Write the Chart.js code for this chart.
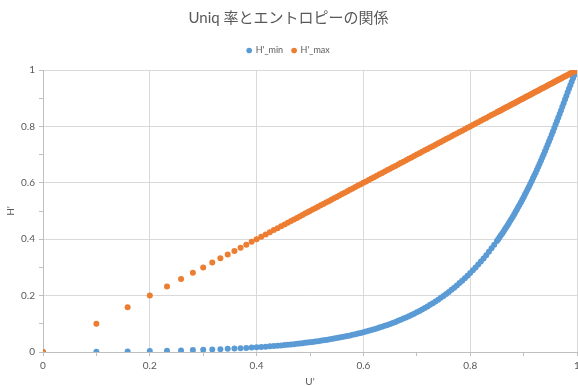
<!DOCTYPE html>
<html>
<head>
<meta charset="utf-8">
<script src="https://cdn.jsdelivr.net/npm/chart.js@4/dist/chart.umd.min.js"></script>
<style>
  html, body { margin: 0; padding: 0; background: #ffffff; }
  #wrap { width: 578px; height: 386px; }
</style>
</head>
<body>
<div id="wrap"><canvas id="c" width="578" height="386"></canvas></div>
<script>
// U' (uniq ratio) for each sample
const uPrime = [
  0, 0.1, 0.1585, 0.2, 0.2322, 0.2585, 0.2807, 0.3, 0.3170, 0.3322,
  0.3459, 0.3585, 0.3700, 0.3807, 0.3907, 0.4, 0.4087, 0.4170, 0.4248, 0.4322,
  0.4392, 0.4459, 0.4524, 0.4585, 0.4644, 0.4700, 0.4755, 0.4807, 0.4858, 0.4907, 0.4954,
  0.500, 0.505, 0.510, 0.515, 0.520, 0.525, 0.530, 0.535, 0.540, 0.545,
  0.550, 0.555, 0.560, 0.565, 0.570, 0.575, 0.580, 0.585, 0.590, 0.595,
  0.600, 0.605, 0.610, 0.615, 0.620, 0.625, 0.630, 0.635, 0.640, 0.645,
  0.650, 0.655, 0.660, 0.665, 0.670, 0.675, 0.680, 0.685, 0.690, 0.695,
  0.700, 0.705, 0.710, 0.715, 0.720, 0.725, 0.730, 0.735, 0.740, 0.745,
  0.750, 0.755, 0.760, 0.765, 0.770, 0.775, 0.780, 0.785, 0.790, 0.795,
  0.800, 0.805, 0.810, 0.815, 0.820, 0.825, 0.830, 0.835, 0.840, 0.845, 0.850,
  0.8525, 0.8550, 0.8575, 0.8600, 0.8625, 0.8650, 0.8675, 0.8700, 0.8725, 0.8750,
  0.8775, 0.8800, 0.8825, 0.8850, 0.8875, 0.8900, 0.8925, 0.8950, 0.8975,
  0.9000, 0.9025, 0.9050, 0.9075, 0.9100, 0.9125, 0.9150, 0.9175, 0.9200, 0.9225,
  0.9250, 0.9275, 0.9300, 0.9325, 0.9350, 0.9375, 0.9400, 0.9425, 0.9450, 0.9475,
  0.9500, 0.9525, 0.9550, 0.9575, 0.9600, 0.9625, 0.9650, 0.9675, 0.9700, 0.9725,
  0.9750, 0.9775, 0.9800, 0.9825, 0.9850, 0.9875, 0.9900, 0.9925, 0.9950, 0.9975, 1.0
];

// H'_min: lowest normalised entropy for each U'
const hMin = [
  0, 0.0011, 0.0022, 0.0034, 0.0045, 0.0056, 0.0067, 0.0078, 0.0089, 0.0101,
  0.0112, 0.0123, 0.0134, 0.0145, 0.0156, 0.0167, 0.0179, 0.0190, 0.0201, 0.0212,
  0.0223, 0.0234, 0.0246, 0.0257, 0.0268, 0.0279, 0.0290, 0.0301, 0.0312, 0.0324, 0.0335,
  0.0346, 0.0358, 0.0371, 0.0385, 0.0399, 0.0413, 0.0428, 0.0444, 0.0460, 0.0476,
  0.0493, 0.0511, 0.0529, 0.0548, 0.0568, 0.0588, 0.0609, 0.0631, 0.0654, 0.0677,
  0.0701, 0.0726, 0.0752, 0.0779, 0.0807, 0.0835, 0.0865, 0.0896, 0.0928, 0.0961,
  0.0995, 0.1030, 0.1066, 0.1104, 0.1143, 0.1184, 0.1225, 0.1269, 0.1313, 0.1360,
  0.1408, 0.1457, 0.1509, 0.1562, 0.1616, 0.1673, 0.1732, 0.1793, 0.1856, 0.1921,
  0.1988, 0.2058, 0.2129, 0.2204, 0.2281, 0.2360, 0.2443, 0.2528, 0.2616, 0.2707,
  0.2801, 0.2898, 0.2998, 0.3102, 0.3209, 0.3320, 0.3435, 0.3553, 0.3675, 0.3801, 0.3932,
  0.3999, 0.4067, 0.4136, 0.4206, 0.4277, 0.4349, 0.4423, 0.4497, 0.4573, 0.4650,
  0.4728, 0.4808, 0.4889, 0.4971, 0.5054, 0.5139, 0.5224, 0.5312, 0.5400,
  0.5490, 0.5581, 0.5674, 0.5768, 0.5863, 0.5960, 0.6058, 0.6157, 0.6258, 0.6360,
  0.6464, 0.6569, 0.6676, 0.6784, 0.6894, 0.7005, 0.7117, 0.7231, 0.7346, 0.7463,
  0.7581, 0.7700, 0.7820, 0.7942, 0.8065, 0.8189, 0.8314, 0.8440, 0.8567, 0.8694,
  0.8822, 0.8951, 0.9079, 0.9207, 0.9334, 0.9460, 0.9584, 0.9704, 0.9819, 0.9923, 1.0
];

// H'_max: highest normalised entropy for each U'
const hMax = [
  0, 0.1, 0.1585, 0.2, 0.2322, 0.2585, 0.2807, 0.3, 0.3170, 0.3322,
  0.3459, 0.3585, 0.3700, 0.3807, 0.3907, 0.4, 0.4087, 0.4170, 0.4248, 0.4322,
  0.4392, 0.4459, 0.4524, 0.4585, 0.4644, 0.4700, 0.4755, 0.4807, 0.4858, 0.4907, 0.4954,
  0.500, 0.505, 0.510, 0.515, 0.520, 0.525, 0.530, 0.535, 0.540, 0.545,
  0.550, 0.555, 0.560, 0.565, 0.570, 0.575, 0.580, 0.585, 0.590, 0.595,
  0.600, 0.605, 0.610, 0.615, 0.620, 0.625, 0.630, 0.635, 0.640, 0.645,
  0.650, 0.655, 0.660, 0.665, 0.670, 0.675, 0.680, 0.685, 0.690, 0.695,
  0.700, 0.705, 0.710, 0.715, 0.720, 0.725, 0.730, 0.735, 0.740, 0.745,
  0.750, 0.755, 0.760, 0.765, 0.770, 0.775, 0.780, 0.785, 0.790, 0.795,
  0.800, 0.805, 0.810, 0.815, 0.820, 0.825, 0.830, 0.835, 0.840, 0.845, 0.850,
  0.8525, 0.8550, 0.8575, 0.8600, 0.8625, 0.8650, 0.8675, 0.8700, 0.8725, 0.8750,
  0.8775, 0.8800, 0.8825, 0.8850, 0.8875, 0.8900, 0.8925, 0.8950, 0.8975,
  0.9000, 0.9025, 0.9050, 0.9075, 0.9100, 0.9125, 0.9150, 0.9175, 0.9200, 0.9225,
  0.9250, 0.9275, 0.9300, 0.9325, 0.9350, 0.9375, 0.9400, 0.9425, 0.9450, 0.9475,
  0.9500, 0.9525, 0.9550, 0.9575, 0.9600, 0.9625, 0.9650, 0.9675, 0.9700, 0.9725,
  0.9750, 0.9775, 0.9800, 0.9825, 0.9850, 0.9875, 0.9900, 0.9925, 0.9950, 0.9975, 1.0
];

const seriesNames = ["H'_min", "H'_max"];
const axisTicks = [0, 0.2, 0.4, 0.6, 0.8, 1];
const chartTitle = 'Uniq 率とエントロピーの関係';

const BLUE = '#5B9BD5';
const ORANGE = '#ED7D31';
const TEXT = '#595959';
const GRID = '#d9d9d9';
const AXIS = '#bfbfbf';
const FONT = "Lato, 'Noto Sans CJK JP', sans-serif";

const toPoints = (xs, ys) => xs.map((x, i) => ({ x: x, y: ys[i] }));

const isMajor = v => axisTicks.some(t => Math.abs(t - v) < 1e-6);

function axis(titleText, fitSide, fitSize, titlePadding) {
  return {
    type: 'linear',
    min: 0,
    max: 1,
    ticks: {
      stepSize: 0.1,
      color: TEXT,
      font: { family: FONT, size: 10 },
      padding: 4,
      callback: v => (isMajor(v) ? String(Math.round(v * 10) / 10) : '')
    },
    grid: {
      color: ctx => (ctx.tick && isMajor(ctx.tick.value) ? GRID : 'rgba(0,0,0,0)'),
      tickColor: AXIS,
      tickLength: 4,
      lineWidth: 1
    },
    border: { color: AXIS, width: 1 },
    title: {
      display: true,
      text: titleText,
      color: TEXT,
      font: { family: FONT, size: 10 },
      padding: titlePadding
    },
    afterFit: s => {
      s[fitSide] = fitSize;
      // let the end labels overhang the plot instead of shrinking it
      s.paddingLeft = 0;
      s.paddingRight = 0;
      s.paddingTop = 0;
      s.paddingBottom = 0;
    }
  };
}

// Leaves a little more room between the legend row and the plot.
const legendGap = {
  id: 'legendGap',
  beforeLayout(chart) {
    const lg = chart.legend;
    if (lg && !lg.__gap) {
      const fit = lg.fit.bind(lg);
      lg.fit = function () { fit(); this.height += 5; };
      lg.__gap = true;
    }
  }
};

new Chart(document.getElementById('c'), {
  type: 'scatter',
  data: {
    datasets: [
      {
        label: seriesNames[0],
        data: toPoints(uPrime, hMin),
        backgroundColor: BLUE,
        borderColor: BLUE,
        borderWidth: 0,
        pointRadius: 3,
        order: 2
      },
      {
        label: seriesNames[1],
        data: toPoints(uPrime, hMax),
        backgroundColor: ORANGE,
        borderColor: ORANGE,
        borderWidth: 0,
        pointRadius: 3,
        order: 1
      }
    ]
  },
  plugins: [legendGap],
  options: {
    responsive: false,
    animation: false,
    events: [],
    layout: { autoPadding: false, padding: { top: 0, right: 1, bottom: 0, left: 0 } },
    plugins: {
      title: {
        display: true,
        text: chartTitle,
        color: TEXT,
        font: { family: FONT, size: 15, weight: 'normal' },
        padding: { top: 9, bottom: 10 }
      },
      legend: {
        display: true,
        position: 'top',
        labels: {
          usePointStyle: true,
          pointStyle: 'circle',
          boxWidth: 4,
          boxHeight: 4,
          color: TEXT,
          font: { family: FONT, size: 9 },
          padding: 9,
          sort: (a, b) => a.datasetIndex - b.datasetIndex
        }
      },
      tooltip: { enabled: false }
    },
    scales: {
      x: axis("U'", 'height', 34, { top: 0, bottom: -2 }),
      y: axis("H'", 'width', 43, { top: 5, bottom: 0 })
    }
  }
});
</script>
</body>
</html>
